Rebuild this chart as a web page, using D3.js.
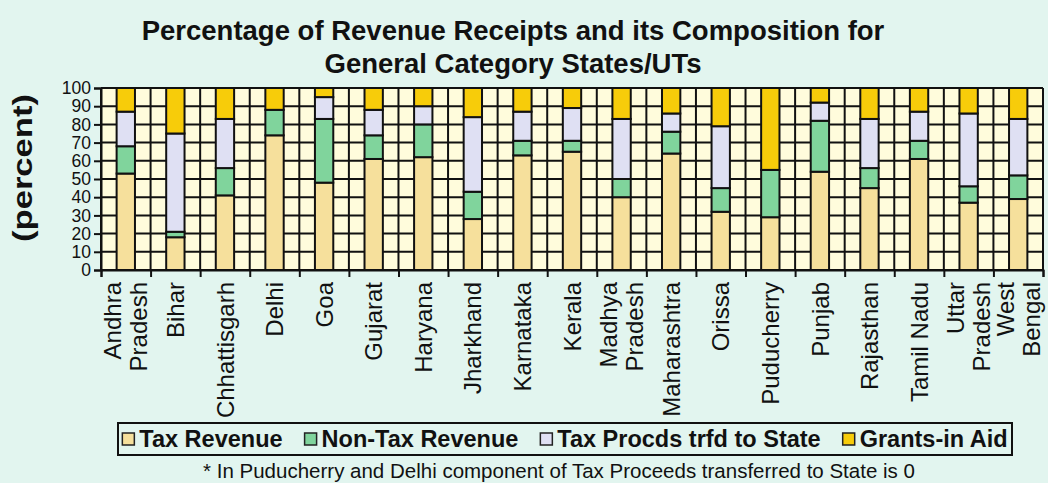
<!DOCTYPE html>
<html>
<head>
<meta charset="utf-8">
<script src="https://cdn.jsdelivr.net/npm/d3@7"></script>
<style>
	body { margin: 0; background: #e2f5ef; }
	svg { display: block; font-family: "Liberation Sans", Arial, sans-serif; }
</style>
</head>
<body>
<div id="chart"></div>
<script>

// Category names, each split into the lines shown under the axis
const stateLabels = [
	["Andhra", "Pradesh"], ["Bihar"], ["Chhattisgarh"], ["Delhi"], ["Goa"],
	["Gujarat"], ["Haryana"], ["Jharkhand"], ["Karnataka"], ["Kerala"],
	["Madhya", "Pradesh"], ["Maharashtra"], ["Orissa"], ["Puducherry"], ["Punjab"],
	["Rajasthan"], ["Tamil Nadu"], ["Uttar", "Pradesh"], ["West", "Bengal"]
];

// Shares of revenue receipts (percent)
const taxRevenue    = [53, 18, 41, 74, 48, 61, 62, 28, 63, 65, 40, 64, 32, 29, 54, 45, 61, 37, 39];
const nonTaxRevenue = [15,  3, 15, 14, 35, 13, 18, 15,  8,  6, 10, 12, 13, 26, 28, 11, 10,  9, 13];
const taxProceeds   = [19, 54, 27,  0, 12, 14, 10, 41, 16, 18, 33, 10, 34,  0, 10, 27, 16, 40, 31];
const grantsInAid   = [13, 25, 17, 12,  5, 12, 10, 16, 13, 11, 17, 14, 21, 45,  8, 17, 13, 14, 17];

const seriesNames = ["Tax Revenue", "Non-Tax Revenue", "Tax Procds trfd to State", "Grants-in Aid"];
const seriesColors = ["#f6e09c", "#80d49c", "#dfe0f3", "#f7cc0a"];
const yTicks = [0, 10, 20, 30, 40, 50, 60, 70, 80, 90, 100];

const titleLines = ["Percentage of Revenue Receipts and its Composition for", "General Category States/UTs"];
const footnote = "* In Puducherry and Delhi component of Tax Proceeds transferred to State is 0";

const width = 1048, height = 483;
const margin = { top: 88, right: 5, bottom: 213, left: 101 };

// build table for d3.stack
const keys = ["tax", "nontax", "procs", "grants"];
const table = stateLabels.map((lab, i) => ({
	name: lab.join(" "),
	lines: lab,
	tax: taxRevenue[i],
	nontax: nonTaxRevenue[i],
	procs: taxProceeds[i],
	grants: grantsInAid[i]
}));

const svg = d3.select('#chart').append('svg')
	.attr('width', width)
	.attr('height', height);

const x = d3.scaleBand()
	.domain(table.map(d => d.name))
	.range([margin.left, width - margin.right])
	.paddingInner(0.63)
	.paddingOuter(0.315);

// index scale for the category boundaries (grid + ticks)
const xEdge = d3.scaleLinear()
	.domain([0, table.length])
	.range([margin.left, width - margin.right]);

const y = d3.scaleLinear()
	.domain([0, 100])
	.range([height - margin.bottom, margin.top]);

const color = d3.scaleOrdinal().domain(keys).range(seriesColors);

// plot background
svg.append('rect')
	.attr('x', margin.left)
	.attr('y', margin.top)
	.attr('width', width - margin.right - margin.left)
	.attr('height', y(0) - y(100))
	.attr('fill', '#fffcdc');

// grid
const grid = svg.append('g').attr('stroke', '#111').attr('stroke-width', 2);
grid.selectAll('line.h')
	.data(yTicks)
	.enter().append('line')
		.attr('x1', margin.left)
		.attr('x2', width - margin.right)
		.attr('y1', d => y(d))
		.attr('y2', d => y(d));
grid.selectAll('line.v')
	.data(d3.range(table.length + 1))
	.enter().append('line')
		.attr('x1', d => xEdge(d))
		.attr('x2', d => xEdge(d))
		.attr('y1', y(0))
		.attr('y2', y(100));

// stacked bars
const stacked = d3.stack().keys(keys)(table);

svg.append('g')
	.selectAll('g')
	.data(stacked)
	.enter().append('g')
		.attr('fill', d => color(d.key))
		.selectAll('rect')
		.data(d => d.filter(s => s[1] - s[0] > 0))
		.enter().append('rect')
			.attr('x', d => x(d.data.name))
			.attr('width', x.bandwidth())
			.attr('y', d => y(d[1]))
			.attr('height', d => y(d[0]) - y(d[1]))
			.attr('stroke', '#111')
			.attr('stroke-width', 2);

// y axis
const yAxis = svg.append('g')
	.attr('transform', `translate(${margin.left},0)`)
	.call(d3.axisLeft(y).tickValues(yTicks).tickSize(7).tickPadding(3));
yAxis.select('.domain').attr('stroke', '#111').attr('stroke-width', 2);
yAxis.selectAll('.tick line').attr('stroke', '#111').attr('stroke-width', 2);
yAxis.selectAll('.tick text')
	.attr('font-size', 17.5)
	.attr('fill', '#111')
	.attr('font-family', '"Liberation Sans", Arial, sans-serif');

// x axis (ticks at category boundaries)
const xAxis = svg.append('g')
	.attr('transform', `translate(0,${y(0)})`)
	.call(d3.axisBottom(xEdge).tickValues(d3.range(table.length + 1)).tickSize(7).tickFormat(''));
xAxis.select('.domain').attr('stroke', '#111').attr('stroke-width', 2);
xAxis.selectAll('.tick line').attr('stroke', '#111').attr('stroke-width', 2);

// category labels, rotated
const labelSize = 24, lineH = 26;
const labels = svg.append('g')
	.selectAll('text')
	.data(table)
	.enter().append('text')
		.attr('transform', d => `translate(${x(d.name) + x.bandwidth() / 2},${y(0) + 12}) rotate(-90)`)
		.attr('text-anchor', 'end')
		.attr('font-size', labelSize)
		.attr('fill', '#111');
labels.selectAll('tspan')
	.data(d => d.lines.map((l, i) => ({ l, i, n: d.lines.length })))
	.enter().append('tspan')
		.attr('x', 0)
		.attr('y', d => (d.i - (d.n - 1) / 2) * lineH + labelSize * 0.36)
		.text(d => d.l);

// title
svg.append('g')
	.selectAll('text')
	.data(titleLines)
	.enter().append('text')
		.attr('x', 513)
		.attr('y', (d, i) => 40 + i * 33)
		.attr('text-anchor', 'middle')
		.attr('font-size', 27.5)
		.attr('font-weight', 'bold')
		.attr('fill', '#111')
		.text(d => d);

// y label
svg.append('text')
	.attr('transform', `translate(32,168) rotate(-90)`)
	.attr('text-anchor', 'middle')
	.attr('font-size', 27)
	.attr('font-weight', 'bold')
	.attr('fill', '#111')
	.attr('textLength', 148)
	.attr('lengthAdjust', 'spacingAndGlyphs')
	.text('(percent)');

// legend
const legBox = { x: 118, y: 423, w: 894, h: 32 };
svg.append('rect')
	.attr('x', legBox.x).attr('y', legBox.y)
	.attr('width', legBox.w).attr('height', legBox.h)
	.attr('fill', 'none')
	.attr('stroke', '#111')
	.attr('stroke-width', 2);

const legend = svg.append('g');
const items = legend.selectAll('g')
	.data(seriesNames)
	.enter().append('g');
items.append('rect')
	.attr('width', 12).attr('height', 12)
	.attr('y', -14)
	.attr('fill', (d, i) => seriesColors[i])
	.attr('stroke', '#222')
	.attr('stroke-width', 1.5);
items.append('text')
	.attr('x', 17)
	.attr('font-size', 23.5)
	.attr('font-weight', 'bold')
	.attr('fill', '#111')
	.text(d => d);

// lay the entries out by their measured widths
const widths = items.nodes().map(n => n.getBBox().width);
const gap = 22;
const total = d3.sum(widths) + gap * (widths.length - 1);
let cursor = legBox.x + (legBox.w - total) / 2;
items.attr('transform', (d, i) => {
	const t = `translate(${cursor},${legBox.y + 24})`;
	cursor += widths[i] + gap;
	return t;
});

// footnote
svg.append('text')
	.attr('x', 559)
	.attr('y', 478)
	.attr('text-anchor', 'middle')
	.attr('font-size', 20.5)
	.attr('fill', '#111')
	.text(footnote);

</script>
</body>
</html>
